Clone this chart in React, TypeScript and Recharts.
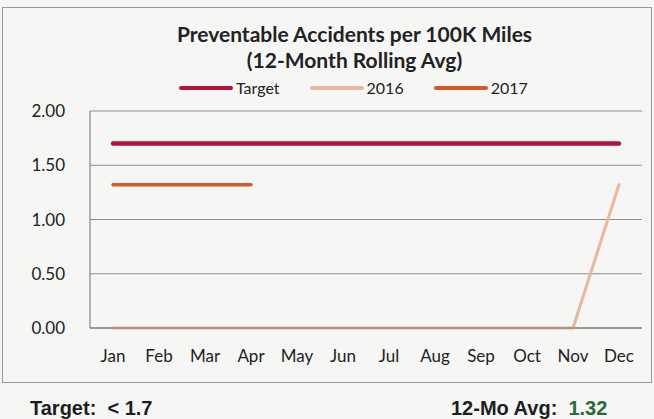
import React from "react"
import {
  LineChart,
  Line,
  XAxis,
  YAxis,
  CartesianGrid,
} from "recharts"

const months = ["Jan", "Feb", "Mar", "Apr", "May", "Jun", "Jul", "Aug", "Sep", "Oct", "Nov", "Dec"]
const target = [1.7, 1.7, 1.7, 1.7, 1.7, 1.7, 1.7, 1.7, 1.7, 1.7, 1.7, 1.7]
const y2016 = [0, 0, 0, 0, 0, 0, 0, 0, 0, 0, 0, 1.32]
const y2017 = [1.32, 1.32, 1.32, 1.32, null, null, null, null, null, null, null, null]
const yTicks = [0, 0.5, 1, 1.5, 2]

const series = [
  { key: "target", name: "Target", color: "#b3123b", width: 4.5 },
  { key: "y2016", name: "2016", color: "#e9b79d", width: 3 },
  { key: "y2017", name: "2017", color: "#d65a24", width: 3.5 },
]

const data = months.map((m, i) => ({
  month: m,
  target: target[i],
  y2016: y2016[i],
  y2017: y2017[i],
}))

const FONT = "Lato, 'Open Sans', sans-serif"
const FOOT_FONT = "'Liberation Sans', Arial, sans-serif"

export default function App() {
  return (
    <div
      style={{
        position: "absolute",
        left: 0,
        top: 0,
        width: 654,
        height: 419,
        background: "#f6f6f5",
        fontFamily: FONT,
        overflow: "hidden",
      }}
    >
      <div
        style={{
          position: "absolute",
          left: 2,
          top: 7,
          width: 650,
          height: 376,
          border: "1px solid #9a9a9a",
          boxSizing: "border-box",
        }}
      />
      <div
        style={{
          position: "absolute",
          left: 0,
          top: 21,
          width: 709,
          textAlign: "center",
          fontWeight: 700,
          fontSize: 21,
          lineHeight: "26px",
          color: "#222",
        }}
      >
        Preventable Accidents per 100K Miles
        <br />
        (12-Month Rolling Avg)
      </div>
      <div
        style={{
          position: "absolute",
          left: 179,
          top: 78,
          display: "flex",
          alignItems: "center",
          fontSize: 16,
          lineHeight: "19px",
          color: "#222",
        }}
      >
        {series.map((s) => (
          <div key={s.key} style={{ display: "flex", alignItems: "center", marginRight: 30 }}>
            <div style={{ width: 54, height: 4, borderRadius: 2, background: s.color, marginRight: 3 }} />
            <span>{s.name}</span>
          </div>
        ))}
      </div>
      <LineChart
        width={654}
        height={419}
        data={data}
        margin={{ top: 111, right: 12, left: 0, bottom: 51 }}
        style={{ position: "absolute", left: 0, top: 0 }}
      >
        <CartesianGrid vertical={false} stroke="#8e8e8e" strokeWidth={1} />
        <XAxis
          dataKey="month"
          height={40}
          padding={{ left: 23, right: 23 }}
          tickLine={false}
          axisLine={{ stroke: "#707070" }}
          tick={{ fill: "#222", fontSize: 17, fontFamily: FONT }}
          tickMargin={16}
          interval={0}
        />
        <YAxis
          width={90}
          domain={[0, 2]}
          ticks={yTicks}
          tickFormatter={(v: number) => v.toFixed(2)}
          tickLine={false}
          axisLine={{ stroke: "#707070" }}
          tick={{ fill: "#222", fontSize: 17, fontFamily: FONT }}
          tickMargin={19}
        />
        <YAxis
          yAxisId="right"
          orientation="right"
          width={0}
          domain={[0, 2]}
          tick={false}
          tickLine={false}
          axisLine={{ stroke: "#9a9a9a" }}
        />
        {series.map((s) => (
          <Line
            key={s.key}
            dataKey={s.key}
            name={s.name}
            stroke={s.color}
            strokeWidth={s.width}
            strokeLinecap="round"
            dot={false}
            activeDot={false}
            type="linear"
            isAnimationActive={false}
          />
        ))}
      </LineChart>
      <div
        style={{
          position: "absolute",
          left: 30,
          top: 397,
          fontFamily: FOOT_FONT,
          fontWeight: 700,
          fontSize: 20,
          whiteSpace: "pre",
          color: "#1e1e1e",
        }}
      >
        {"Target:  < 1.7"}
      </div>
      <div
        style={{
          position: "absolute",
          left: 451,
          top: 397,
          fontFamily: FOOT_FONT,
          fontWeight: 700,
          fontSize: 20,
          whiteSpace: "pre",
          color: "#1e1e1e",
        }}
      >
        {"12-Mo Avg:  "}
        <span style={{ color: "#2a6b3c" }}>1.32</span>
      </div>
    </div>
  )
}
